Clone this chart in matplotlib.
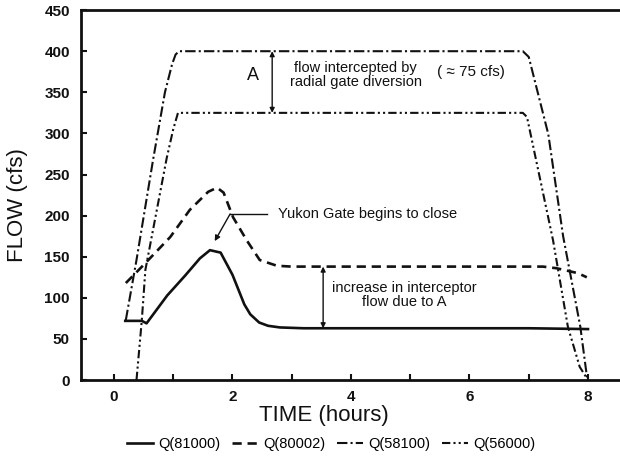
import numpy as np
import matplotlib
matplotlib.use('Agg')
import matplotlib.pyplot as plt

plt.rcParams['font.family'] = ['Liberation Sans', 'DejaVu Sans']

# series (time in hours, flow in cfs)
t_81000 = [0.19, 0.47, 0.55, 0.9, 1.2, 1.45, 1.62, 1.8, 2.0, 2.2, 2.3, 2.45, 2.6, 2.8, 3.2, 5.0, 7.0, 8.0]
q_81000 = [72, 72, 69, 103, 127, 148, 158, 155, 128, 92, 80, 70, 66, 64, 63, 63, 63, 62]

t_80002 = [0.2, 0.5, 0.95, 1.28, 1.59, 1.74, 1.85, 2.01, 2.24, 2.46, 2.75, 3.0, 5.0, 7.24, 7.47, 7.83, 7.98]
q_80002 = [118, 140, 174, 207, 229, 234, 228, 198, 170, 146, 139, 138, 138, 138, 136, 130, 125]

t_58100 = [0.2, 0.38, 0.66, 0.86, 0.98, 1.04, 1.1, 4.0, 6.9, 7.0, 7.33, 7.58, 7.87, 7.98, 8.0]
q_58100 = [73, 146, 268, 350, 384, 396, 400, 400, 400, 393, 299, 175, 65, 5, 0]

t_56000 = [0.38, 0.47, 0.53, 0.89, 1.0, 1.08, 4.0, 6.9, 6.97, 7.41, 7.66, 7.86, 8.0]
q_56000 = [0, 73, 134, 270, 305, 325, 325, 325, 320, 170, 65, 16, 0]

labels = ['Q(81000)', 'Q(80002)', 'Q(58100)', 'Q(56000)']
x_ticks = [0, 2, 4, 6, 8]
y_ticks = list(range(0, 451, 50))

fig = plt.figure(figsize=(6.2, 4.59), dpi=100)
ax = fig.add_axes([0.1306, 0.172, 0.8694, 0.806])

ink = '#111111'
ax.plot(t_81000, q_81000, color=ink, lw=1.9, ls='-', label=labels[0])
ax.plot(t_80002, q_80002, color=ink, lw=1.9, ls=(0, (3.5, 2.2)), label=labels[1])
ax.plot(t_58100, q_58100, color=ink, lw=1.5, ls=(0, (5, 1.5, 1, 1.5)), label=labels[2])
ax.plot(t_56000, q_56000, color=ink, lw=1.5, ls=(0, (4, 1.5, 1, 1.5, 1, 1.5)), label=labels[3])

ax.set_xlim(-0.557, 8.54)
ax.set_ylim(0, 450)
ax.set_xticks(x_ticks)
ax.set_xticks([1, 3, 5, 7], minor=True)
ax.set_yticks(y_ticks)
ax.tick_params(axis='both', which='both', direction='in', length=4, width=1.5,
               labelsize=11, colors=ink)
ax.tick_params(axis='x', pad=7)
ax.tick_params(axis='y', pad=8)
for lab in ax.get_xticklabels() + ax.get_yticklabels():
    lab.set_fontweight('bold')
for side in ['left', 'bottom', 'top']:
    ax.spines[side].set_linewidth(2)
    ax.spines[side].set_color(ink)
ax.spines['right'].set_visible(False)

# annotations
arr = dict(arrowstyle='<|-|>', color=ink, lw=1.0, mutation_scale=7, shrinkA=0, shrinkB=0)
ax.annotate('', xy=(2.67, 400), xytext=(2.67, 325), arrowprops=arr)
ax.text(2.35, 371, 'A', fontsize=13, ha='center', va='center', color=ink)
ax.text(4.08, 371, 'flow intercepted by\nradial gate diversion', fontsize=10.5,
        ha='center', va='center', multialignment='center', color=ink, linespacing=1.0)
ax.text(5.45, 375, '( ≈ 75 cfs)', fontsize=11, ha='left', va='center', color=ink)

ax.annotate('', xy=(3.53, 138), xytext=(3.53, 63), arrowprops=arr)
ax.text(4.9, 103, 'increase in interceptor\nflow due to A', fontsize=10.5,
        ha='center', va='center', multialignment='center', color=ink, linespacing=1.0)

ax.plot([2.58, 1.96], [202, 202], color=ink, lw=1.0)
ax.annotate('', xy=(1.70, 169), xytext=(1.96, 202),
            arrowprops=dict(arrowstyle='-|>', color=ink, lw=1.0, mutation_scale=8,
                            shrinkA=0, shrinkB=0))
ax.text(2.77, 202, 'Yukon Gate begins to close', fontsize=10.5, ha='left', va='center', color=ink)

fig.text(0.523, 0.094, 'TIME (hours)', fontsize=16, ha='center', va='center', color=ink)
fig.text(0.028, 0.553, 'FLOW (cfs)', fontsize=16, ha='center', va='center',
         rotation=90, color=ink)

fig.legend(loc='center', bbox_to_anchor=(0.534, 0.032), ncol=4, frameon=False,
           fontsize=10.5, handlelength=1.8, handletextpad=0.35, columnspacing=0.8)

fig.savefig('out.png', dpi=100)
